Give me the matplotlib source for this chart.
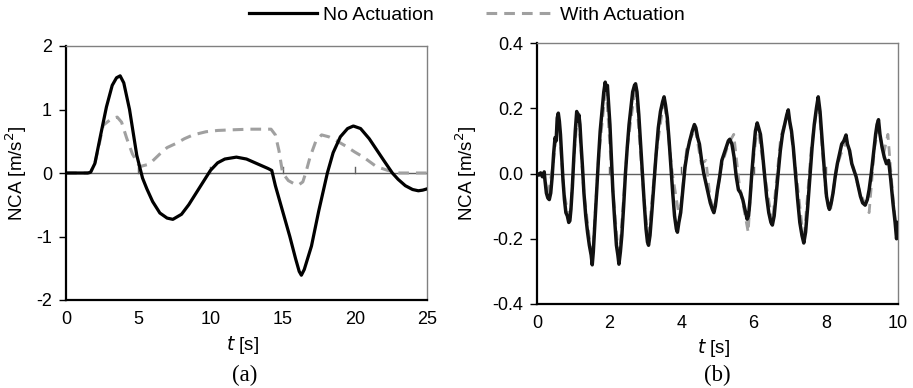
import numpy as np
import matplotlib.pyplot as plt

plt.rcParams['font.family'] = ['Liberation Sans', 'DejaVu Sans']
plt.rcParams['axes.unicode_minus'] = False

# --- (a) smooth response over 25 s ---
t_a = [0, 0.5, 1.0, 1.5, 1.7, 2.0, 2.4, 2.8, 3.2, 3.5, 3.75, 4.0, 4.4, 4.9, 5.3, 5.6,
       6.0, 6.5, 7.0, 7.4, 8.0, 8.5, 9.0, 9.5, 10.0, 10.5, 11.0, 11.8, 12.5, 13.0,
       13.5, 14.0, 14.25, 14.5, 15.0, 15.5, 15.9, 16.15, 16.3, 16.5, 17.0, 17.5,
       18.1, 18.5, 19.0, 19.5, 19.9, 20.4, 21.0, 21.5, 22.0, 22.6, 23.0, 23.5,
       24.0, 24.4, 24.7, 25.0]
no_act_a = [0, 0, 0, 0, 0.01, 0.15, 0.6, 1.04, 1.38, 1.5, 1.53, 1.42, 1.0, 0.28, -0.08, -0.25,
            -0.45, -0.63, -0.71, -0.73, -0.65, -0.5, -0.32, -0.14, 0.04, 0.16, 0.22, 0.25, 0.22, 0.17,
            0.12, 0.07, 0.04, -0.2, -0.6, -1.0, -1.35, -1.55, -1.61, -1.52, -1.15, -0.6,
            0.0, 0.32, 0.57, 0.7, 0.74, 0.7, 0.54, 0.37, 0.2, 0.0, -0.1, -0.2,
            -0.26, -0.28, -0.27, -0.25]

t_a_w = [0, 0.5, 1.0, 1.5, 1.7, 2.0, 2.3, 2.57, 2.9, 3.2, 3.55, 3.85, 4.2, 4.6, 5.1, 5.6,
         6.0, 6.5, 7.0, 7.66, 8.2, 8.8, 9.7, 10.5, 11.5, 12.7, 13.5, 14.2, 14.5, 14.75,
         15.0, 15.4, 15.8, 16.1, 16.4, 16.6, 16.9, 17.3, 17.7, 18.2, 18.8, 19.4, 20.0,
         20.6, 21.5, 22.3, 23.1, 24.0, 25.0]
with_act_a = [0, 0, 0, 0, 0.01, 0.15, 0.45, 0.75, 0.81, 0.86, 0.88, 0.8, 0.55, 0.3, 0.1, 0.13,
              0.19, 0.3, 0.4, 0.47, 0.54, 0.6, 0.65, 0.67, 0.68, 0.69, 0.69, 0.69, 0.6, 0.35,
              0.0, -0.12, -0.17, -0.19, -0.14, 0.0, 0.25, 0.5, 0.6, 0.57, 0.5, 0.42, 0.33,
              0.25, 0.1, 0.04, 0.0, 0.0, 0.0]

# --- (b) measured response over 10 s ---
t_b = [0.00, 0.05, 0.10, 0.15, 0.20, 0.22, 0.26, 0.30, 0.34, 0.38, 0.42, 0.46, 0.50, 0.53,
       0.56, 0.59, 0.62, 0.65, 0.68, 0.72, 0.76, 0.80, 0.84, 0.88, 0.91, 0.94, 0.98, 1.02,
       1.06, 1.10, 1.13, 1.16, 1.19, 1.22, 1.26, 1.30, 1.35, 1.40, 1.45, 1.50, 1.53, 1.56,
       1.60, 1.65, 1.70, 1.75, 1.80, 1.85, 1.89, 1.92, 1.95, 1.98, 2.02, 2.06, 2.10, 2.15,
       2.20, 2.24, 2.27, 2.31, 2.35, 2.40, 2.45, 2.50, 2.55, 2.60, 2.65, 2.70, 2.73, 2.77,
       2.82, 2.87, 2.92, 2.97, 3.02, 3.06, 3.09, 3.13, 3.18, 3.24, 3.30, 3.36, 3.42, 3.48,
       3.52, 3.56, 3.61, 3.66, 3.71, 3.76, 3.81, 3.86, 3.89, 3.93, 3.98, 4.04, 4.10, 4.17,
       4.23, 4.30, 4.36, 4.40, 4.45, 4.50, 4.56, 4.62, 4.68, 4.74, 4.80, 4.86, 4.90, 4.94,
       5.00, 5.06, 5.12, 5.18, 5.24, 5.30, 5.34, 5.40, 5.46, 5.52, 5.58, 5.64, 5.70, 5.76,
       5.82, 5.86, 5.90, 5.95, 6.00, 6.05, 6.10, 6.14, 6.19, 6.24, 6.30, 6.36, 6.42, 6.48,
       6.52, 6.57, 6.62, 6.68, 6.74, 6.80, 6.86, 6.92, 6.96, 7.00, 7.05, 7.10, 7.16, 7.22,
       7.28, 7.34, 7.39, 7.44, 7.50, 7.56, 7.62, 7.68, 7.74, 7.79, 7.84, 7.90, 7.96, 8.02,
       8.07, 8.10, 8.15, 8.20, 8.26, 8.32, 8.38, 8.44, 8.50, 8.56, 8.60, 8.66, 8.72, 8.78,
       8.84, 8.90, 8.96, 9.02, 9.09, 9.15, 9.20, 9.26, 9.32, 9.38, 9.42, 9.46, 9.50, 9.56,
       9.62, 9.68, 9.74, 9.80, 9.86, 9.92, 9.96, 10.00]
no_act_b = [0.000, -0.005, 0.002, -0.010, 0.005, -0.020, -0.060, -0.075, -0.080, -0.060, -0.010, 0.060, 0.110, 0.100,
            0.170, 0.185, 0.160, 0.120, 0.060, -0.020, -0.080, -0.120, -0.130, -0.150, -0.145, -0.110, -0.040, 0.050,
            0.130, 0.190, 0.160, 0.180, 0.150, 0.090, 0.020, -0.060, -0.130, -0.180, -0.220, -0.250, -0.280, -0.240,
            -0.160, -0.060, 0.040, 0.130, 0.190, 0.250, 0.280, 0.255, 0.270, 0.220, 0.150, 0.050, -0.050, -0.140,
            -0.220, -0.250, -0.278, -0.240, -0.190, -0.100, 0.000, 0.080, 0.150, 0.200, 0.250, 0.270, 0.275, 0.250,
            0.180, 0.090, 0.000, -0.090, -0.170, -0.210, -0.220, -0.190, -0.120, -0.030, 0.060, 0.140, 0.190, 0.220,
            0.235, 0.210, 0.170, 0.100, 0.020, -0.060, -0.130, -0.170, -0.180, -0.150, -0.120, -0.050, 0.020, 0.070,
            0.100, 0.130, 0.150, 0.140, 0.110, 0.090, 0.040, 0.000, -0.030, -0.060, -0.090, -0.110, -0.120, -0.100,
            -0.050, -0.010, 0.040, 0.060, 0.080, 0.100, 0.105, 0.090, 0.050, -0.010, -0.050, -0.060, -0.080, -0.110,
            -0.140, -0.130, -0.080, 0.000, 0.070, 0.130, 0.155, 0.140, 0.120, 0.070, 0.000, -0.070, -0.120, -0.150,
            -0.158, -0.130, -0.070, 0.000, 0.070, 0.120, 0.150, 0.180, 0.195, 0.160, 0.130, 0.080, 0.000, -0.080,
            -0.150, -0.190, -0.213, -0.180, -0.100, -0.010, 0.080, 0.150, 0.200, 0.235, 0.190, 0.100, 0.010, -0.070,
            -0.100, -0.110, -0.090, -0.060, -0.010, 0.030, 0.060, 0.090, 0.100, 0.118, 0.090, 0.070, 0.030, 0.010,
            -0.010, -0.040, -0.070, -0.090, -0.097, -0.080, -0.050, 0.000, 0.060, 0.120, 0.150, 0.165, 0.120, 0.080,
            0.050, 0.030, 0.040, -0.020, -0.090, -0.150, -0.200, -0.150]

t_b_w = [0.00, 0.20, 0.30, 0.45, 0.59, 0.75, 0.91, 1.05, 1.14, 1.30, 1.53, 1.70, 1.91, 2.10,
         2.27, 2.50, 2.73, 2.95, 3.08, 3.30, 3.52, 3.75, 3.95, 4.15, 4.38, 4.55, 4.68, 4.80,
         4.92, 5.10, 5.30, 5.45, 5.60, 5.75, 5.85, 5.95, 6.11, 6.30, 6.52, 6.75, 6.96, 7.18,
         7.39, 7.60, 7.79, 8.00, 8.12, 8.30, 8.42, 8.58, 8.75, 8.95, 9.20, 9.35, 9.46, 9.60,
         9.72, 9.85, 9.96, 10.00]
with_act_b = [0.000, 0.000, -0.070, 0.030, 0.180, -0.060, -0.150, 0.090, 0.190, -0.060, -0.270, 0.040, 0.270, -0.050,
              -0.270, 0.080, 0.270, -0.060, -0.210, 0.060, 0.230, 0.000, -0.140, 0.080, 0.140, 0.030, 0.040, -0.080,
              -0.110, 0.020, 0.090, 0.120, -0.030, -0.120, -0.180, 0.000, 0.150, 0.000, -0.150, 0.110, 0.190, 0.000,
              -0.210, 0.080, 0.230, -0.060, -0.120, 0.020, 0.060, 0.100, 0.020, -0.060, -0.120, 0.080, 0.140, 0.060,
              0.120, -0.060, -0.180, -0.150]

GRAY = '#a0a0a0'
DASH = (0, (3.5, 2.3))

fig = plt.figure(figsize=(9.13, 3.88), dpi=100)
ax_a = fig.add_axes([66 / 913, 1 - 300 / 388, 361 / 913, 254 / 388])
ax_b = fig.add_axes([537 / 913, 1 - 304 / 388, 361 / 913, 261 / 388])


def style_axes(ax, xticks, yticks, yfmt, tick_h):
    ax.set_xlim(xticks[0], xticks[-1])
    ax.set_ylim(yticks[0], yticks[-1])
    ax.set_xticks(xticks)
    ax.set_yticks(yticks)
    ax.set_yticklabels([yfmt.format(v) for v in yticks])
    ax.tick_params(axis='x', length=0, pad=8, labelsize=13)
    ax.tick_params(axis='y', length=5, width=1, pad=5, labelsize=13, direction='out')
    for s in ['top', 'right']:
        ax.spines[s].set_color('#808080')
        ax.spines[s].set_linewidth(1.0)
    for s in ['left', 'bottom']:
        ax.spines[s].set_color('black')
        ax.spines[s].set_linewidth(1.6)
    # axis line at zero with small upward ticks (Excel style)
    ax.axhline(0, color='#606060', lw=1.0, zorder=1)
    for x in xticks[1:-1]:
        ax.plot([x, x], [0, tick_h], color='#606060', lw=1.0, zorder=1)
    ax.set_ylabel('NCA [m/s$^2$]', fontsize=13.5)
    ax.set_xlabel('$t$ [s]', fontsize=13.5)


ax_a.plot(t_a, no_act_a, color='black', lw=2.3, zorder=3, label='No Actuation')
ax_a.plot(t_a_w, with_act_a, color=GRAY, lw=2.2, ls=DASH, zorder=2, label='With Actuation')
style_axes(ax_a, [0, 5, 10, 15, 20, 25], [-2, -1, 0, 1, 2], '{:g}', 0.1)
ax_a.yaxis.set_label_coords(-0.102, 0.5)
ax_a.xaxis.set_label_coords(0.49, -0.135)

ax_b.plot(t_b_w, with_act_b, color=GRAY, lw=2.0, ls=DASH, zorder=2)
ax_b.plot(t_b, no_act_b, color='#111111', lw=2.5, zorder=3)
style_axes(ax_b, [0, 2, 4, 6, 8, 10], [-0.4, -0.2, 0.0, 0.2, 0.4], '{:.1f}', 0.02)
ax_b.yaxis.set_label_coords(-0.16, 0.5)
ax_b.xaxis.set_label_coords(0.49, -0.125)

fig.legend(loc='center', bbox_to_anchor=(0.511, 0.961), ncol=2, frameon=False,
           fontsize=14, handlelength=3.5, columnspacing=2.7, handletextpad=0.3)

fig.text(245 / 913, 1 - 375 / 388, '(a)', ha='center', va='center', fontsize=16.5,
         family='Liberation Serif')
fig.text(717 / 913, 1 - 375 / 388, '(b)', ha='center', va='center', fontsize=16.5,
         family='Liberation Serif')

fig.savefig('out.png', dpi=100)
